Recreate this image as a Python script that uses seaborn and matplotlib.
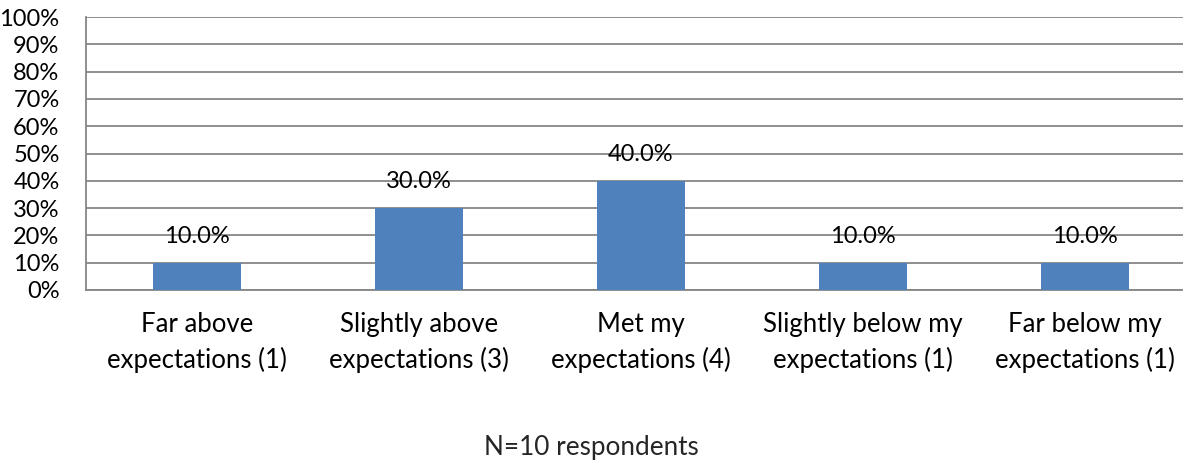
import matplotlib
matplotlib.use("Agg")
import matplotlib.pyplot as plt
import seaborn as sns
import pandas as pd
from matplotlib.ticker import PercentFormatter

categories = ["Far above\nexpectations (1)", "Slightly above\nexpectations (3)",
              "Met my\nexpectations (4)", "Slightly below my\nexpectations (1)",
              "Far below my\nexpectations (1)"]
values = [10.0, 30.0, 40.0, 10.0, 10.0]
yticks = [0, 10, 20, 30, 40, 50, 60, 70, 80, 90, 100]
note = "N=10 respondents"

sns.set_theme(style="white")
plt.rcParams['font.family'] = ['Lato', 'DejaVu Sans']

FS_NUM = 17
FS_TXT = 18.5

df = pd.DataFrame({"cat": categories, "val": values})

fig = plt.figure(figsize=(11.83, 4.66), dpi=100)
ax = fig.add_axes([86/1183, 1-290/466, (1196-86)/1183, (290-17)/466])

sns.barplot(data=df, x="cat", y="val", color="#4F81BD", saturation=1,
            width=0.40, ax=ax, zorder=3, linewidth=0)

ax.set_xlim(-0.5, len(values) - 0.5)
ax.set_ylim(0, 100)
ax.set_yticks(yticks)
ax.yaxis.set_major_formatter(PercentFormatter(decimals=0))
ax.grid(axis="y", color="#868686", linewidth=1.3, zorder=0)
ax.set_axisbelow(True)
for s in ["top", "right"]:
    ax.spines[s].set_visible(False)
for s in ["left", "bottom"]:
    ax.spines[s].set_color("#868686")
    ax.spines[s].set_linewidth(1.3)
ax.tick_params(axis="both", length=0, colors="black")
ax.tick_params(axis="y", pad=19, labelsize=FS_NUM)
ax.tick_params(axis="x", pad=16, labelsize=FS_TXT)
for lab in ax.get_xticklabels():
    lab.set_linespacing(1.45)
ax.set_xlabel("")
ax.set_ylabel("")

for i, v in enumerate(values):
    ax.annotate(f"{v:.1f}%", (i, v), xytext=(0, 19), textcoords="offset points",
                ha="center", va="center", fontsize=FS_NUM, color="black")

fig.text(591.5/1183, 1-447/466, note, ha="center", va="center", fontsize=FS_TXT + 0.3)

fig.savefig("out.png", dpi=100, facecolor="white")
